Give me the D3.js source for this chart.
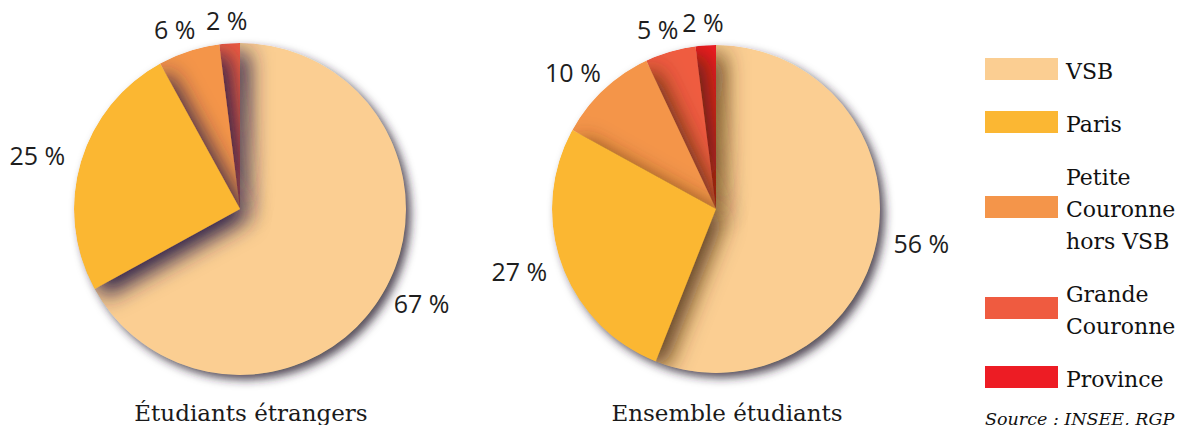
<!DOCTYPE html>
<html>
<head>
<meta charset="utf-8">
<script src="https://cdn.jsdelivr.net/npm/d3@7"></script>
<style>
  html, body { margin: 0; padding: 0; background: #fff; }
  svg { display: block; }
</style>
</head>
<body>
<svg id="chart" width="1180" height="425"></svg>
<script>
// ---- data ----
const categories = ["VSB", "Paris", "Petite Couronne hors VSB", "Grande Couronne", "Province"];
const legendLines = [["VSB"], ["Paris"], ["Petite", "Couronne", "hors VSB"], ["Grande", "Couronne"], ["Province"]];
const colors = ["#fbce92", "#fbb733", "#f4954a", "#ef5b40", "#ed1c24"];
const etrangers = [67, 25, 6, 2, 0];
const ensemble = [56, 27, 10, 5, 2];
const titles = ["Étudiants étrangers", "Ensemble étudiants"];
const source = "Source : INSEE, RGP";

// ---- layout ----
const svg = d3.select("#chart");
const defs = svg.append("defs");

function shadowFilter(id, dx, dy, sd, color, op) {
  const f = defs.append("filter").attr("id", id)
    .attr("filterUnits", "userSpaceOnUse")
    .attr("x", -800).attr("y", -800).attr("width", 1600).attr("height", 1600);
  f.append("feDropShadow").attr("dx", dx).attr("dy", dy)
    .attr("stdDeviation", sd).attr("flood-color", color).attr("flood-opacity", op);
}
shadowFilter("outerShadow", 5, 5, 5, "#2a2233", 0.8);
shadowFilter("innerL", 9, 9, 11, "#2e2448", 1);
shadowFilter("innerR", 9, 9, 11, "#4a2c10", 0.85);

const pies = [
  { values: etrangers, cx: 240, cy: 209, r: 166, title: titles[0], inner: "innerL" },
  { values: ensemble, cx: 716, cy: 209, r: 164, title: titles[1], inner: "innerR" }
];

const pieGen = d3.pie().sort(null).value(d => d);

pies.forEach((p, pi) => {
  const arcs = pieGen(p.values);
  const arc = d3.arc().innerRadius(0).outerRadius(p.r);
  const rx = p.r + 45, ry = p.r + 22;
  const labelPos = d => {
    const a = (d.startAngle + d.endAngle) / 2;
    return [rx * Math.sin(a), -ry * Math.cos(a)];
  };

  defs.append("clipPath").attr("id", "clip" + pi)
    .append("circle").attr("r", p.r);

  const g = svg.append("g").attr("transform", `translate(${p.cx},${p.cy})`);
  const outer = g.append("g").attr("filter", "url(#outerShadow)");
  const clipG = outer.append("g").attr("clip-path", `url(#clip${pi})`);

  // largest (first) slice at bottom, the others on top in reverse order
  const order = [0].concat(d3.range(arcs.length - 1, 0, -1));
  order.forEach(i => {
    const a = arcs[i];
    if (a.value <= 0) return;
    clipG.append("path")
      .attr("d", arc(a))
      .attr("fill", colors[i])
      .attr("filter", i === 0 ? null : `url(#${p.inner})`);
  });

  g.selectAll("text.lbl")
    .data(arcs.filter(a => a.value > 0))
    .join("text")
    .attr("class", "lbl")
    .attr("transform", d => `translate(${labelPos(d)})`)
    .attr("text-anchor", "middle")
    .attr("dy", "0.35em")
    .attr("font-family", "'Open Sans', sans-serif")
    .attr("font-size", 25)
    .attr("fill", "#1e1e1e")
    .text(d => `${d.value} %`);

  svg.append("text")
    .attr("x", p.cx + 11).attr("y", 421)
    .attr("text-anchor", "middle")
    .attr("font-family", "'DejaVu Serif', serif")
    .attr("font-size", 23)
    .attr("fill", "#1a1a1a")
    .text(p.title);
});

// ---- legend ----
const lg = svg.append("g");
let base = 79;
const lineH = 32;
categories.forEach((c, i) => {
  const lines = legendLines[i];
  const baselines = lines.map((_, k) => base + k * lineH);
  const center = d3.mean(baselines) - 10;
  lg.append("rect")
    .attr("x", 985).attr("y", center - 11)
    .attr("width", 73).attr("height", 22)
    .attr("fill", colors[i]);
  lines.forEach((t, k) => {
    lg.append("text")
      .attr("x", 1066).attr("y", baselines[k])
      .attr("font-family", "'DejaVu Serif', serif")
      .attr("font-size", 22)
      .attr("fill", "#111")
      .text(t);
  });
  base = baselines[baselines.length - 1] + 53;
});

svg.append("text")
  .attr("x", 985).attr("y", 425)
  .attr("font-family", "'DejaVu Serif', serif")
  .attr("font-style", "italic")
  .attr("font-size", 17.5)
  .attr("fill", "#111")
  .text(source);
</script>
</body>
</html>
